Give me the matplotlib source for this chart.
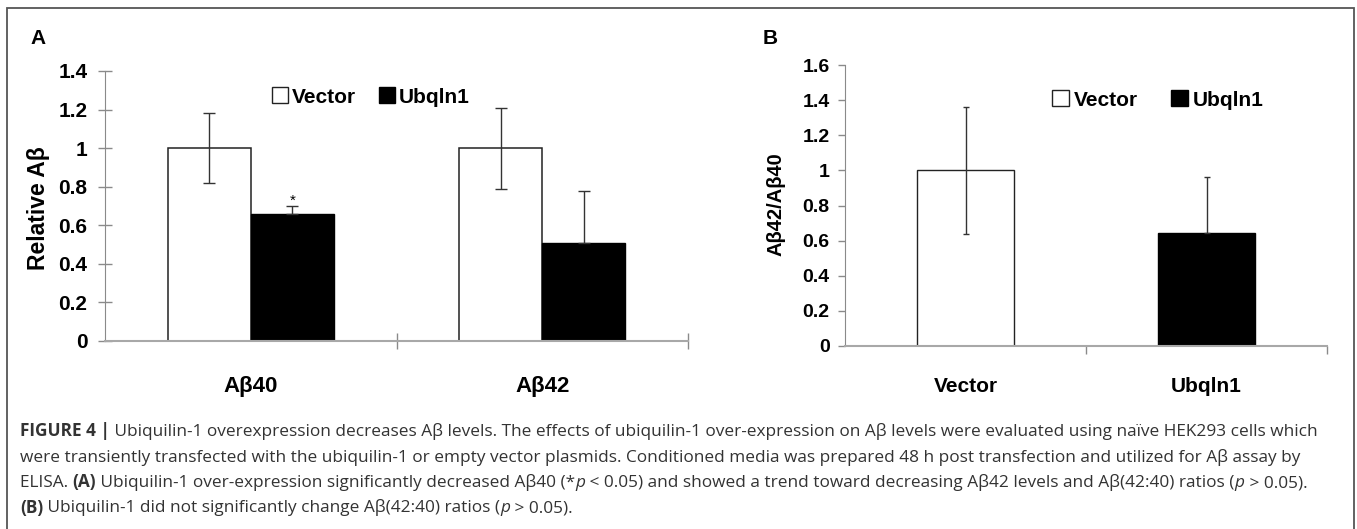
import matplotlib
matplotlib.use('Agg')
import matplotlib.pyplot as plt
from matplotlib import font_manager
from matplotlib.patches import Patch, Rectangle
from matplotlib.ticker import FormatStrFormatter
import numpy as np

# panel A: relative Abeta levels
peptides = ['Aβ40', 'Aβ42']
vector_a = [1.0, 1.0]
vector_a_err = [0.18, 0.21]
ubqln_a = [0.66, 0.51]
ubqln_a_err = [0.04, 0.27]
yticks_a = [0, 0.2, 0.4, 0.6, 0.8, 1, 1.2, 1.4]

# panel B: Abeta42/Abeta40 ratio
groups_b = ['Vector', 'Ubqln1']
ratio_b = [1.0, 0.645]
ratio_b_err = [0.36, 0.32]
yticks_b = [0, 0.2, 0.4, 0.6, 0.8, 1, 1.2, 1.4, 1.6]

caption = [
    [("FIGURE 4 |", 'bold', 'normal'),
     (" Ubiquilin-1 overexpression decreases Aβ levels. The effects of ubiquilin-1 over-expression on Aβ levels "
      "were evaluated using naïve HEK293 cells which", 'normal', 'normal')],
    [("were transiently transfected with the ubiquilin-1 or empty vector plasmids. Conditioned media was prepared "
      "48 h post transfection and utilized for Aβ assay by", 'normal', 'normal')],
    [("ELISA. ", 'normal', 'normal'), ("(A)", 'bold', 'normal'),
     (" Ubiquilin-1 over-expression significantly decreased Aβ40 (*", 'normal', 'normal'),
     ("p", 'normal', 'italic'),
     (" < 0.05) and showed a trend toward decreasing Aβ42 levels and Aβ(42:40) ratios (", 'normal', 'normal'),
     ("p", 'normal', 'italic'), (" > 0.05).", 'normal', 'normal')],
    [("(B)", 'bold', 'normal'),
     (" Ubiquilin-1 did not significantly change Aβ(42:40) ratios (", 'normal', 'normal'),
     ("p", 'normal', 'italic'), (" > 0.05).", 'normal', 'normal')],
]

W, H = 1357, 529
names = {f.name for f in font_manager.fontManager.ttflist}
NARROW = 'Liberation Sans Narrow' if 'Liberation Sans Narrow' in names else 'Liberation Sans'
ARIAL = 'Liberation Sans'
CAPFONT = 'Open Sans' if 'Open Sans' in names else 'DejaVu Sans'
AXCOL = '#8a8a8a'

fig = plt.figure(figsize=(W / 100, H / 100), dpi=100)
fig.patch.set_facecolor('white')


def px_axes(left, right, bottom, top):
    return fig.add_axes([left / W, 1 - bottom / H, (right - left) / W, (bottom - top) / H])


def style_axes(ax):
    for s in ['top', 'right']:
        ax.spines[s].set_visible(False)
    ax.spines['left'].set_color(AXCOL)
    ax.spines['bottom'].set_color('#a8a8a8')
    ax.spines['bottom'].set_linewidth(1.5)
    ax.yaxis.set_major_formatter(FormatStrFormatter('%g'))


def upper_only(err):
    return [np.zeros(len(err)), err]


# ---- panel A
ax = px_axes(105, 688, 341, 71)
style_axes(ax)
x = np.arange(len(peptides))
w = 0.285
ekw = dict(ecolor='#333333', elinewidth=1, capsize=4, capthick=1)
ax.bar(x - w / 2, vector_a, w, yerr=vector_a_err, color='white', edgecolor='#222222',
       linewidth=1.1, error_kw=ekw)
ax.bar(x + w / 2, ubqln_a, w, yerr=upper_only(ubqln_a_err), color='black', edgecolor='black',
       linewidth=1, error_kw=ekw)
ax.text(x[0] + w / 2, ubqln_a[0] + ubqln_a_err[0] + 0.025, '*', ha='center', va='center',
        fontsize=11, family=ARIAL)
ax.set_xlim(-0.5, 1.5)
ax.set_ylim(0, 1.4)
ax.set_yticks(yticks_a)
ax.set_xticks(x)
ax.set_xticklabels(peptides)
ax.set_xticks([0.5, 1.5], minor=True)
ax.tick_params(axis='y', direction='inout', length=9.4, width=1, color=AXCOL, pad=8.0,
               labelsize=15)
ax.tick_params(axis='x', which='major', length=0, pad=25, labelsize=16)
ax.tick_params(axis='x', which='minor', direction='inout', length=11, width=1, color=AXCOL)
for t in ax.get_xticklabels() + ax.get_yticklabels():
    t.set_family(NARROW)
    t.set_fontweight('bold')
ax.legend(handles=[Patch(fc='white', ec='#222222', lw=1, label='Vector'),
                   Patch(fc='black', ec='black', label='Ubqln1')],
          loc='center', bbox_to_anchor=(371 / W, 1 - 97 / H), bbox_transform=fig.transFigure,
          ncol=2, frameon=False, handlelength=0.75, handleheight=0.8, handletextpad=0.2,
          columnspacing=1.1, prop=dict(family=NARROW, weight='bold', size=15))

# ---- panel B
bx = px_axes(845, 1327, 346, 65)
style_axes(bx)
xb = np.arange(len(groups_b))
bx.bar(xb[:1], ratio_b[:1], 0.405, yerr=ratio_b_err[:1], color='white',
       edgecolor='#222222', linewidth=1,
       error_kw=dict(ecolor='#333333', elinewidth=1, capsize=2.5, capthick=1))
bx.bar(xb[1:], ratio_b[1:], 0.405, yerr=upper_only(ratio_b_err[1:]), color='black',
       edgecolor='black', linewidth=1,
       error_kw=dict(ecolor='#333333', elinewidth=1, capsize=2.5, capthick=1))
bx.set_xlim(-0.5, 1.5)
bx.set_ylim(0, 1.6)
bx.set_yticks(yticks_b)
bx.set_xticks(xb)
bx.set_xticklabels(groups_b)
bx.set_xticks([0.5, 1.5], minor=True)
bx.tick_params(axis='y', direction='out', length=5, width=1, color=AXCOL, pad=6,
               labelsize=14)
bx.tick_params(axis='x', which='major', length=0, pad=22, labelsize=15)
bx.tick_params(axis='x', which='minor', direction='out', length=6, width=1, color=AXCOL)
for t in bx.get_xticklabels() + bx.get_yticklabels():
    t.set_family(NARROW)
    t.set_fontweight('bold')
bx.legend(handles=[Patch(fc='white', ec='#222222', lw=1, label='Vector'),
                   Patch(fc='black', ec='black', label='Ubqln1')],
          loc='center', bbox_to_anchor=(1158 / W, 1 - 100 / H), bbox_transform=fig.transFigure,
          ncol=2, frameon=False, handlelength=0.8, handleheight=0.8, handletextpad=0.25,
          columnspacing=1.6, prop=dict(family=NARROW, weight='bold', size=15))

# axis titles and panel letters
fig.text(39 / W, 1 - 208 / H, 'Relative Aβ', rotation=90, ha='center', va='center',
         family=ARIAL, weight='bold', fontsize=16.5)
fig.text(776 / W, 1 - 204 / H, 'Aβ42/Aβ40', rotation=90, ha='center', va='center',
         family=ARIAL, weight='bold', fontsize=14.5)
fig.text(38 / W, 1 - 38 / H, 'A', ha='center', va='center', family=ARIAL, weight='bold',
         fontsize=15)
fig.text(770 / W, 1 - 38 / H, 'B', ha='center', va='center', family=ARIAL, weight='bold',
         fontsize=15)

# border round the whole figure
fig.add_artist(Rectangle((7 / W, -0.05), 1347 / W, 1.05 - 8 / H, transform=fig.transFigure,
                         fill=False, edgecolor='#555555', linewidth=1.3))

# caption, drawn piece by piece
renderer = fig.canvas.get_renderer()


def draw_line(pieces, x0, y0, size):
    arts = []
    xpos = x0
    for txt, wt, st in pieces:
        t = fig.text(xpos / W, 1 - y0 / H, txt, ha='left', va='baseline', family=CAPFONT,
                     weight=wt, style=st, fontsize=size, color='#333333')
        arts.append(t)
        xpos = t.get_window_extent(renderer).x1
    return arts, xpos


probe, xend = draw_line(caption[0], 20, 436, 10)
for t in probe:
    t.remove()
cap_size = 10 * (1317 - 20) / (xend - 20)
for i, line in enumerate(caption):
    draw_line(line, 20, 436 + i * 25.5, cap_size)

fig.savefig('out.png', dpi=100)
